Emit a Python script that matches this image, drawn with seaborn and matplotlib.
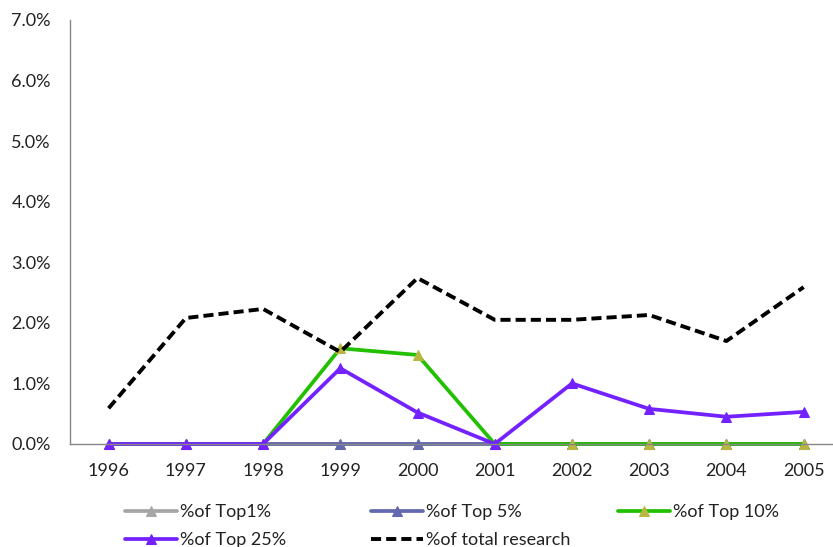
import matplotlib
matplotlib.use("Agg")
import matplotlib.pyplot as plt
import seaborn as sns
import numpy as np
import pandas as pd

years = [1996, 1997, 1998, 1999, 2000, 2001, 2002, 2003, 2004, 2005]
top1 = [0.0, 0.0, 0.0, 0.0, 0.0, 0.0, 0.0, 0.0, 0.0, 0.0]
top5 = [0.0, 0.0, 0.0, 0.0, 0.0, 0.0, 0.0, 0.0, 0.0, 0.0]
top10 = [0.0, 0.0, 0.0, 1.58, 1.47, 0.0, 0.0, 0.0, 0.0, 0.0]
top25 = [0.0, 0.0, 0.0, 1.25, 0.52, 0.0, 1.0, 0.58, 0.45, 0.53]
total = [0.59, 2.08, 2.23, 1.52, 2.74, 2.05, 2.05, 2.13, 1.70, 2.59]
labels = ["%of Top1%", "%of Top 5%", "%of Top 10%", "%of Top 25%", "%of total research"]

sns.set_style("white")
plt.rcParams["font.family"] = ["Lato", "DejaVu Sans"]

fig = plt.figure(figsize=(8.33, 5.47), dpi=100)
ax = fig.add_axes([70 / 833, 1 - 444 / 547, 1 - 70 / 833, (444 - 20) / 547])

styles = [
    dict(color="#A6A6A6", marker="^", mfc="#A6A6A6", mec="#A6A6A6"),
    dict(color="#6468B0", marker="^", mfc="#6468B0", mec="#6468B0"),
    dict(color="#22C000", marker="^", mfc="#B8B840", mec="#B8B840"),
    dict(color="#7322FF", marker="^", mfc="#7322FF", mec="#7322FF"),
    dict(color="#000000", marker=None),
]
series = [top1, top5, top10, top25, total]
lines = []
for vals, lab, st in zip(series, labels, styles):
    df = pd.DataFrame({"year": years, "pct": vals})
    kw = dict(linewidth=2.7, markersize=7.5)
    if lab == "%of total research":
        kw.update(linestyle=(0, (2.6, 1.3)), linewidth=2.8)
    sns.lineplot(data=df, x="year", y="pct", ax=ax, color=st["color"],
                 marker=st["marker"], markerfacecolor=st.get("mfc"),
                 markeredgecolor=st.get("mec"), clip_on=False, **kw)
    lines.append(ax.lines[-1])

ax.set_xlim(1995.5, 2005.38)
ax.set_ylim(0, 7)
ax.set_yticks(np.arange(0, 7.01, 1))
ax.set_yticklabels([f"{v:.1f}%" for v in np.arange(0, 7.01, 1)])
ax.set_xticks(years)
ax.set_xticklabels([str(y) for y in years])
ax.set_xticks(np.arange(1995.5, 2005.4, 1), minor=True)
ax.tick_params(axis="x", which="major", length=0, pad=14, labelsize=13, labelcolor="#222222")
ax.tick_params(axis="x", which="minor", length=4.3, color="#868686", width=1, direction="out")
ax.tick_params(axis="y", length=5.8, color="#868686", width=1, direction="out", pad=8,
               labelsize=13, labelcolor="#222222")
ax.set_xlabel("")
ax.set_ylabel("")
for s in ["top", "right"]:
    ax.spines[s].set_visible(False)
for s in ["left", "bottom"]:
    ax.spines[s].set_color("#868686")
    ax.spines[s].set_linewidth(1)

# three legend columns of equal width below the plot
cols = [([0, 3], 125), ([1, 4], 371), ([2], 618)]
for idx, x0 in cols:
    leg = fig.legend([lines[i] for i in idx], [labels[i] for i in idx],
                     loc="upper left", bbox_to_anchor=(x0 / 833, 1 - 504 / 547),
                     frameon=False, fontsize=13, handlelength=2.9, handletextpad=0.15,
                     labelspacing=0.68, borderaxespad=0, borderpad=0)
    for t in leg.get_texts():
        t.set_color("#222222")

fig.savefig("out.png", dpi=100)
